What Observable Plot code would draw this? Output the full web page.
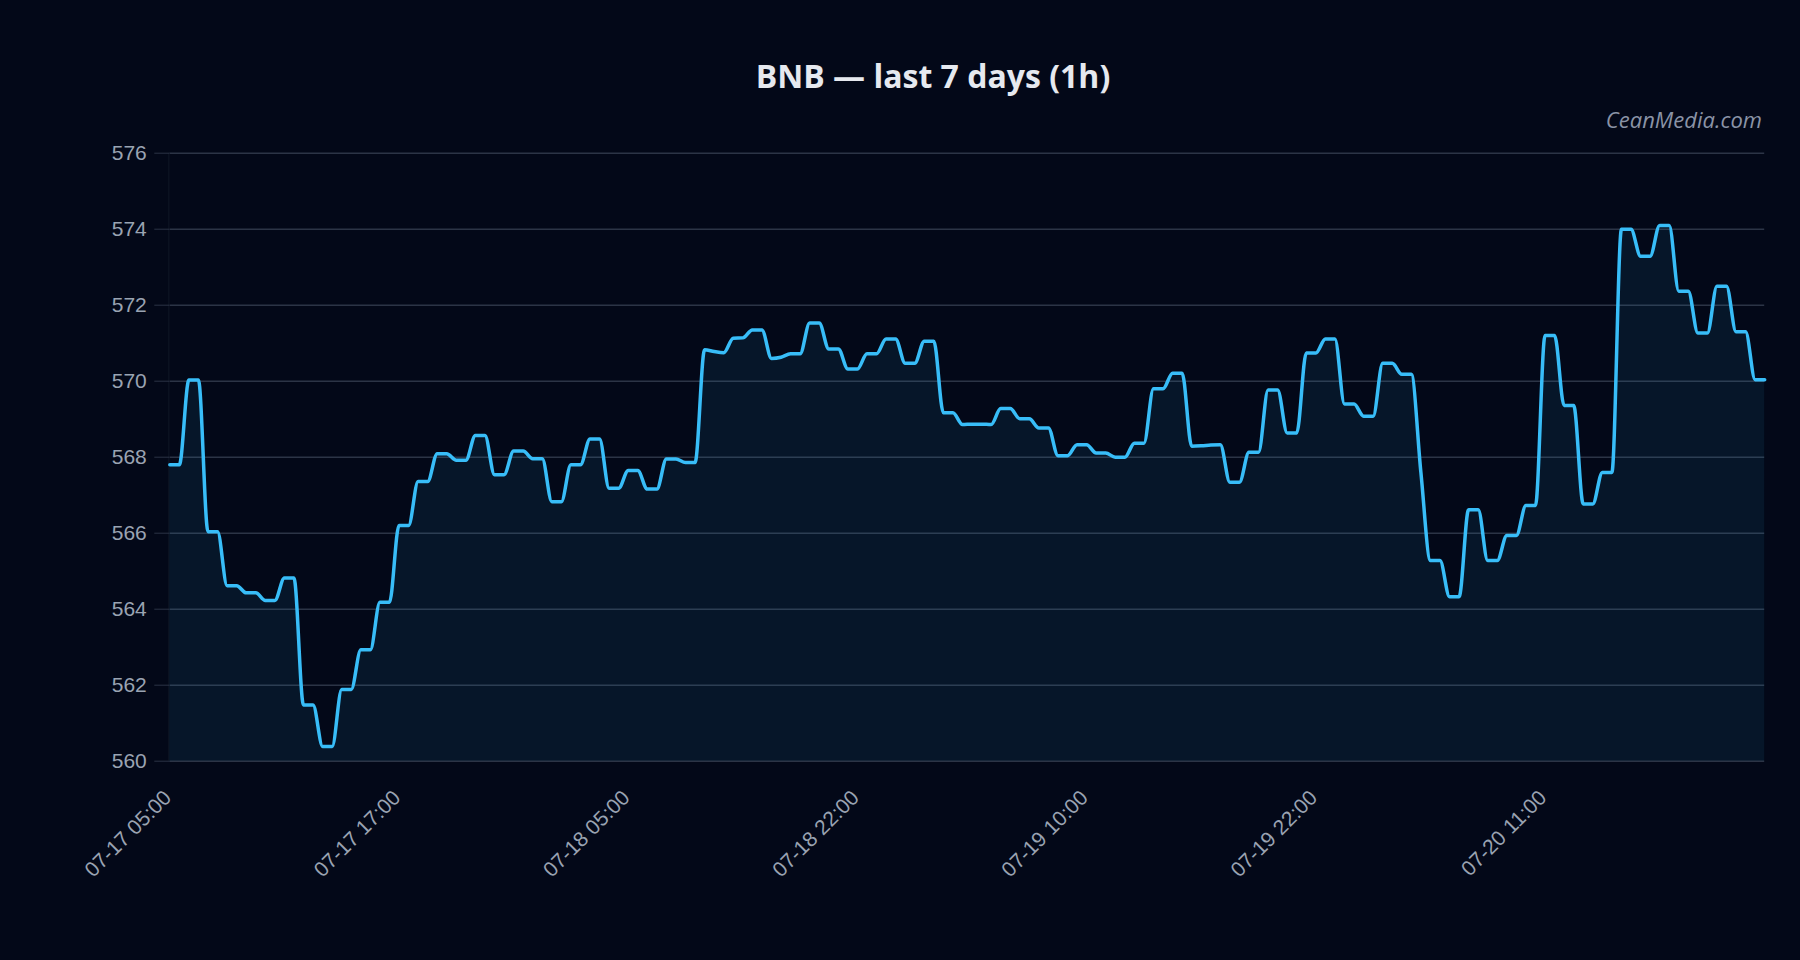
<!DOCTYPE html>
<html><head><meta charset="utf-8">
<script src="https://cdn.jsdelivr.net/npm/d3@7"></script>
<script src="https://cdn.jsdelivr.net/npm/@observablehq/plot@0.6"></script>
<style>
html,body{margin:0;padding:0;background:#030818;width:1800px;height:960px;overflow:hidden;}
#wrap{position:relative;width:1800px;height:960px;}
#title{position:absolute;left:533px;width:800px;top:54px;text-align:center;font-family:"Open Sans",sans-serif;font-weight:700;font-size:32px;line-height:normal;color:#e6e9ef;}
#mark{position:absolute;right:38px;top:104px;font-family:"Open Sans",sans-serif;font-style:italic;font-size:22px;line-height:normal;color:#8a93a6;}
#chart{position:absolute;left:0;top:130px;}
</style></head><body>
<div id="wrap"><div id="title">BNB — last 7 days (1h)</div><div id="mark">CeanMedia.com</div><div id="chart"></div></div>
<script>
// hourly closes (series as plotted, one value per x position)
const price = [
  567.80,567.80,570.03,570.03,566.04,566.04,564.62,564.62,564.43,564.43,
  564.23,564.23,564.82,564.82,561.48,561.48,560.39,560.39,561.89,561.89,
  562.93,562.93,564.18,564.18,566.20,566.20,567.36,567.36,568.09,568.09,
  567.92,567.92,568.57,568.57,567.54,567.54,568.16,568.16,567.96,567.96,
  566.83,566.83,567.80,567.80,568.48,568.48,567.18,567.18,567.65,567.65,
  567.16,567.16,567.95,567.95,567.86,567.86,570.83,570.78,570.75,571.13,
  571.14,571.35,571.35,570.60,570.63,570.72,570.72,571.53,571.53,570.85,
  570.85,570.32,570.32,570.72,570.72,571.11,571.11,570.47,570.47,571.05,
  571.05,569.17,569.17,568.86,568.87,568.87,568.86,569.28,569.28,569.01,
  569.01,568.77,568.77,568.04,568.04,568.33,568.33,568.11,568.11,568.00,
  568.00,568.37,568.37,569.80,569.80,570.21,570.21,568.29,568.30,568.32,
  568.33,567.34,567.34,568.13,568.13,569.77,569.77,568.64,568.64,570.74,
  570.74,571.11,571.11,569.40,569.40,569.08,569.08,570.47,570.47,570.18,
  570.18,567.60,565.28,565.28,564.33,564.33,566.62,566.62,565.28,565.28,
  565.94,565.94,566.73,566.73,571.20,571.20,569.36,569.36,566.77,566.77,
  567.60,567.60,574.00,574.00,573.29,573.29,574.10,574.10,572.37,572.37,
  571.27,571.27,572.50,572.50,571.30,571.30,570.04,570.04
];
const xTickIndex = [0, 24, 48, 72, 96, 120, 144];
const xTickLabels = ["07-17 05:00","07-17 17:00","07-18 05:00","07-18 22:00","07-19 10:00","07-19 22:00","07-20 11:00"];
const yTicks = [560, 562, 564, 566, 568, 570, 572, 574, 576];

const data = price.map((v, i) => ({i, v}));
const yMin = yTicks[0], yMax = yTicks[yTicks.length - 1];

const chart = Plot.plot({
  width: 1800,
  height: 830,
  marginTop: 22.7,
  marginBottom: 199.3,
  marginLeft: 169.3,
  marginRight: 35.8,
  style: {background: "transparent", color: "#9aa3b2", fontFamily: "'Liberation Sans', Arial, sans-serif", fontSize: "21px"},
  x: {type: "linear", domain: [0, price.length - 1]},
  y: {domain: [yMin, yMax]},
  marks: [
    Plot.gridY(yTicks, {stroke: "#2c3446", strokeOpacity: 1, strokeWidth: 1.5}),
    Plot.ruleX([0], {stroke: "#0b1221", strokeWidth: 1.5, dx: -1}),
    Plot.areaY(data, {x: "i", y1: yMin, y2: "v", curve: "monotone-x", fill: "#38bdf8", fillOpacity: 0.08}),
    Plot.lineY(data, {x: "i", y: "v", curve: "monotone-x", stroke: "#38bdf8", strokeWidth: 3.5}),
    Plot.axisY(yTicks, {label: null, tickSize: 15, tickPadding: 8, stroke: "#2c3446", strokeOpacity: 1, fill: "#9aa3b2", fontSize: 21}),
    Plot.axisX(xTickIndex, {label: null, tickFormat: (d) => xTickLabels[xTickIndex.indexOf(d)], tickRotate: -45, tickSize: 0, tickPadding: 33, dx: -2, fill: "#9aa3b2", fontSize: 21})
  ]
});
document.getElementById("chart").appendChild(chart);
</script>
</body></html>
